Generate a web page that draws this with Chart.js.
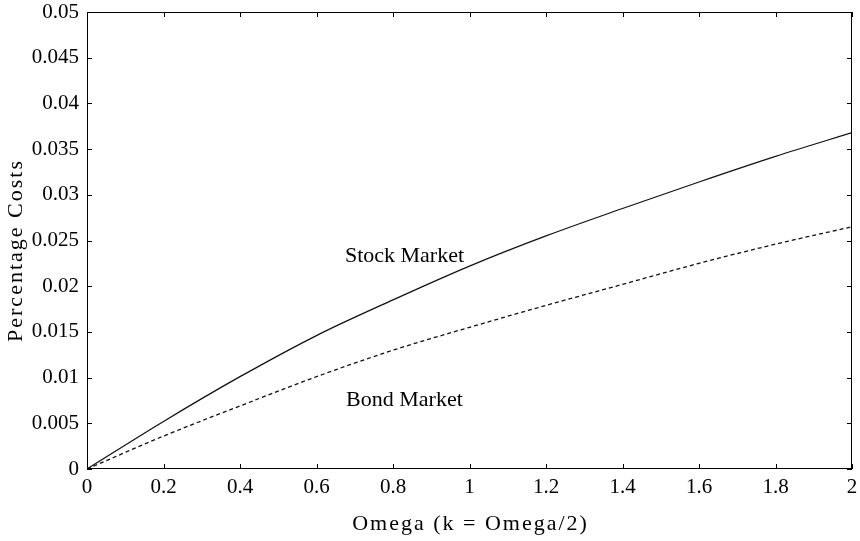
<!DOCTYPE html>
<html>
<head>
<meta charset="utf-8">
<script src="https://cdn.jsdelivr.net/npm/chart.js@4/dist/chart.umd.min.js"></script>
<style>
  html, body { margin: 0; padding: 0; background: #fff; }
  #wrap { width: 860px; height: 541px; }
</style>
</head>
<body>
<div id="wrap"><canvas id="c" width="860" height="541"></canvas></div>
<script>
// Omega values on the horizontal axis
const omega = [0, 0.2, 0.4, 0.6, 0.8, 1.0, 1.2, 1.4, 1.6, 1.8, 2.0];
// Percentage costs for each market
const stockCosts = [0, 0.0052, 0.0101, 0.0146, 0.0185, 0.0222, 0.0255, 0.0285, 0.0314, 0.0342, 0.0368];
const bondCosts  = [0, 0.0036, 0.0069, 0.0101, 0.0130, 0.0155, 0.0179, 0.0202, 0.0225, 0.0246, 0.0265];
// Tick values
const xTicks = [0, 0.2, 0.4, 0.6, 0.8, 1, 1.2, 1.4, 1.6, 1.8, 2];
const yTicks = [0, 0.005, 0.01, 0.015, 0.02, 0.025, 0.03, 0.035, 0.04, 0.045, 0.05];
// In-plot text labels, anchored in data units
const curveLabels = [
  { text: 'Stock Market', x: 0.83, y: 0.0233 },
  { text: 'Bond Market',  x: 0.83, y: 0.0075 }
];
const xTitle = 'Omega (k = Omega/2)';
const yTitle = 'Percentage Costs';

const FONT = "'Liberation Serif', 'Times New Roman', serif";

const toPoints = (xs, ys) => xs.map((x, i) => ({ x, y: ys[i] }));
const fmt = v => String(+v.toFixed(4));

// Frame around the plot with inward tick marks on all four sides,
// curve labels and slightly spaced axis titles
const framePlugin = {
  id: 'frame',
  afterDatasetsDraw(chart) {
    const { ctx, chartArea: a, scales } = chart;
    ctx.save();
    ctx.strokeStyle = '#000';
    ctx.lineWidth = 1;
    ctx.strokeRect(a.left + 0.5, a.top + 0.5, a.right - a.left - 1, a.bottom - a.top - 1);
    const L = 5;
    ctx.beginPath();
    xTicks.forEach(v => {
      const px = Math.round(scales.x.getPixelForValue(v)) + 0.5;
      ctx.moveTo(px, a.bottom); ctx.lineTo(px, a.bottom - L);
      ctx.moveTo(px, a.top); ctx.lineTo(px, a.top + L);
    });
    yTicks.forEach(v => {
      const py = Math.round(scales.y.getPixelForValue(v)) + 0.5;
      ctx.moveTo(a.left, py); ctx.lineTo(a.left + L, py);
      ctx.moveTo(a.right, py); ctx.lineTo(a.right - L, py);
    });
    ctx.stroke();

    ctx.fillStyle = '#000';
    ctx.font = '22px ' + FONT;
    ctx.textAlign = 'center';
    ctx.textBaseline = 'middle';
    curveLabels.forEach(l => {
      ctx.fillText(l.text, scales.x.getPixelForValue(l.x), scales.y.getPixelForValue(l.y));
    });

    // axis titles
    ctx.font = '22px ' + FONT;
    ctx.letterSpacing = '2px';
    const cx = (a.left + a.right) / 2;
    const cy = (a.top + a.bottom) / 2;
    ctx.fillText(xTitle, cx + 1, a.bottom + 55);
    ctx.translate(16, cy + 10);
    ctx.rotate(-Math.PI / 2);
    ctx.fillText(yTitle, 0, 0);
    ctx.restore();
  }
};

new Chart(document.getElementById('c'), {
  type: 'line',
  data: {
    datasets: [
      {
        label: 'Stock Market',
        data: toPoints(omega, stockCosts),
        borderColor: '#111',
        borderWidth: 1.3,
        pointRadius: 0,
        cubicInterpolationMode: 'monotone',
        fill: false
      },
      {
        label: 'Bond Market',
        data: toPoints(omega, bondCosts),
        borderColor: '#111',
        borderWidth: 1.3,
        borderDash: [4, 3],
        pointRadius: 0,
        cubicInterpolationMode: 'monotone',
        fill: false
      }
    ]
  },
  options: {
    responsive: false,
    animation: false,
    devicePixelRatio: 1,
    layout: { padding: { top: 12, right: 8, left: 0, bottom: 0 } },
    plugins: {
      legend: { display: false },
      tooltip: { enabled: false }
    },
    scales: {
      x: {
        type: 'linear',
        min: 0,
        max: 2,
        afterBuildTicks: s => { s.ticks = xTicks.map(v => ({ value: v })); },
        afterFit: s => { s.height = 72; s.paddingLeft = 0; s.paddingRight = 0; },
        grid: { display: false, drawTicks: false },
        border: { display: false },
        ticks: {
          color: '#000',
          padding: 6,
          maxRotation: 0,
          autoSkip: false,
          font: { family: FONT, size: 21 },
          callback: v => fmt(v)
        },
        title: { display: false }
      },
      y: {
        type: 'linear',
        min: 0,
        max: 0.05,
        afterBuildTicks: s => { s.ticks = yTicks.map(v => ({ value: v })); },
        afterFit: s => { s.width = 87; s.paddingTop = 0; s.paddingBottom = 0; },
        grid: { display: false, drawTicks: false },
        border: { display: false },
        ticks: {
          color: '#000',
          padding: 8,
          autoSkip: false,
          font: { family: FONT, size: 21 },
          callback: v => fmt(v)
        },
        title: { display: false }
      }
    }
  },
  plugins: [framePlugin]
});
</script>
</body>
</html>
